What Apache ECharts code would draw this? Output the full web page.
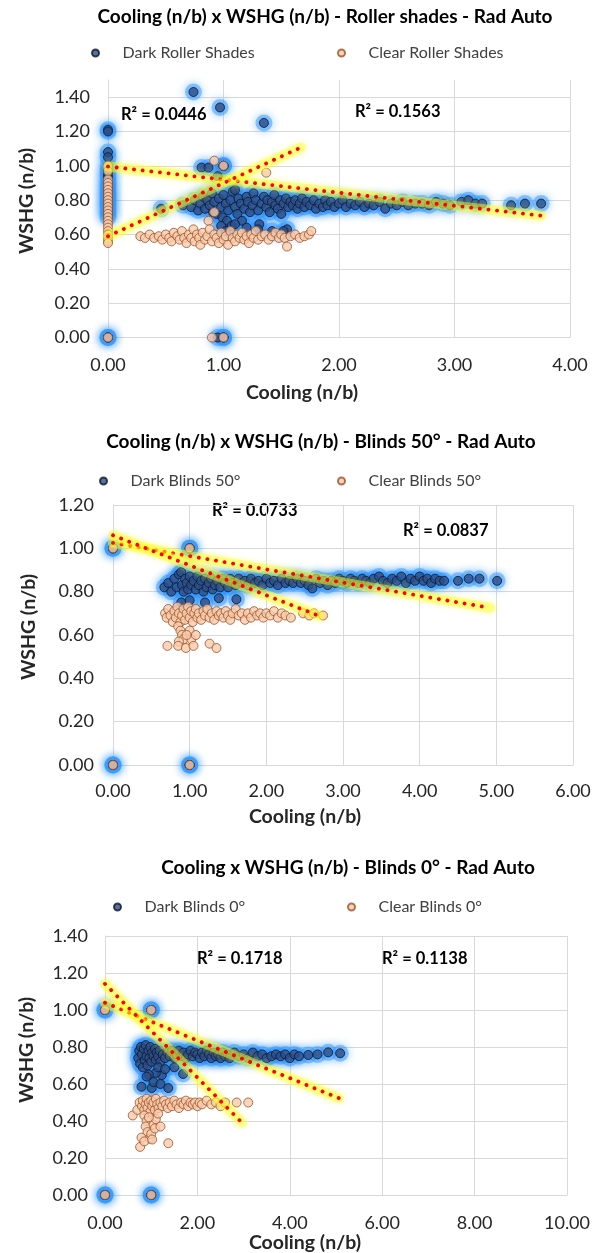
<!DOCTYPE html>
<html>
<head>
<meta charset="utf-8">
<script src="https://cdn.jsdelivr.net/npm/echarts@6/dist/echarts.min.js"></script>
<style>
  html, body { margin: 0; padding: 0; background: #fff; }
  #main { width: 597px; height: 1253px; }
</style>
</head>
<body>
<div id="main"></div>
<script>
// ---- data: [cooling, wshg] ----
var darkRoller = [
  [0,1.21],[0,1.2],[0,1.08],[0,1.05],[0,1.0],[0,0.97],[0,0.95],[0,0.93],[0,0.9],[0,0.88],[0,0.86],[0,0.84],
  [0,0.82],[0,0.8],[0,0.78],[0,0.76],[0,0.74],[0,0.72],[0,0.7],[0,0],[0,0],[0,0],[0.95,0],[1,0],[1,0],[1,0],
  [1,1],[1,1],[1,1],[0.81,0.99],
  [0.87,0.99],[0.95,0.94],[0.74,1.43],[0.97,1.34],[1.35,1.25],[0.46,0.75],[0.65,0.77],[0.91,0.73],
  [0.72,0.76],[0.75,0.8],[0.78,0.74],[0.8,0.78],[0.82,0.82],[0.84,0.75],[0.86,0.8],[0.88,0.77],[0.9,0.84],
  [0.92,0.79],[0.94,0.72],[0.96,0.81],[0.98,0.76],[1.0,0.83],[0.99,0.7],[1.02,0.78],[1.03,0.68],[1.04,0.74],
  [1.06,0.8],[1.07,0.65],[1.08,0.85],[1.1,0.76],[1.1,0.86],[1.12,0.72],[1.13,0.81],[1.15,0.78],[1.16,0.68],
  [1.18,0.75],[1.2,0.82],[1.21,0.79],[1.23,0.73],[1.25,0.77],[1.26,0.84],[1.28,0.8],[1.3,0.74],[1.31,0.66],
  [1.33,0.78],[1.35,0.82],[1.37,0.76],[1.38,0.8],[1.4,0.73],[1.42,0.79],[1.44,0.83],[1.45,0.77],[1.47,0.75],
  [1.49,0.8],[1.5,0.72],[1.52,0.78],[1.54,0.81],[1.55,0.63],[1.56,0.76],[1.58,0.79],[1.6,0.77],[1.62,0.8],
  [1.64,0.75],[1.66,0.78],[1.68,0.81],[1.7,0.76],[1.72,0.79],[1.75,0.77],[1.78,0.8],[1.8,0.75],[1.83,0.78],
  [1.86,0.76],[1.88,0.8],[1.9,0.77],[1.93,0.79],[1.96,0.76],[2.0,0.78],[2.03,0.8],[2.06,0.76],[2.1,0.78],
  [2.14,0.77],[2.18,0.79],[2.22,0.76],[2.26,0.78],[2.3,0.77],[2.35,0.79],[2.4,0.75],[2.45,0.78],[2.5,0.77],
  [2.55,0.79],[2.6,0.77],[2.66,0.78],[2.72,0.78],[2.78,0.77],[2.84,0.79],[2.9,0.78],[2.96,0.77],[3.06,0.79],
  [3.12,0.8],[3.18,0.78],[3.24,0.78],[3.49,0.77],[3.61,0.78],[3.75,0.78],
  [0.98,0.65],[1.02,0.62],[1.1,0.66],[1.2,0.64],[1.3,0.63],[1.42,0.62],[1.52,0.62]
];
var clearRoller = [
  [0,1.0],[0,0.97],[0,0.92],[0,0.9],[0,0.88],[0,0.86],[0,0.84],[0,0.82],[0,0.8],[0,0.78],[0,0.76],[0,0.74],
  [0,0.72],[0,0.7],[0,0.68],[0,0.66],[0,0.64],[0,0.62],[0,0.6],[0,0.58],[0,0.56],[0,0.55],[0,0],
  [0.9,0],[1,0],[1,1],[0.92,1.03],[1.37,0.96],[0.92,0.73],[0.87,0.68],
  [0.28,0.59],[0.32,0.58],[0.36,0.6],[0.4,0.58],[0.44,0.59],[0.47,0.57],[0.5,0.6],[0.53,0.58],[0.55,0.56],
  [0.57,0.61],[0.6,0.59],[0.62,0.57],[0.64,0.62],[0.66,0.58],[0.68,0.55],[0.7,0.6],[0.72,0.58],[0.74,0.63],
  [0.75,0.56],[0.77,0.6],[0.79,0.58],[0.8,0.54],[0.82,0.61],[0.84,0.57],[0.86,0.59],[0.88,0.63],[0.9,0.56],
  [0.92,0.6],[0.94,0.58],[0.96,0.55],[0.98,0.61],[1.0,0.57],[1.02,0.59],[1.04,0.54],[1.06,0.62],[1.08,0.58],
  [1.1,0.56],[1.12,0.6],[1.14,0.58],[1.16,0.61],[1.18,0.57],[1.2,0.59],[1.22,0.55],[1.24,0.6],[1.26,0.58],
  [1.28,0.62],[1.3,0.57],[1.33,0.59],[1.36,0.6],[1.39,0.57],[1.42,0.59],[1.45,0.61],[1.48,0.58],[1.5,0.6],
  [1.53,0.58],[1.55,0.53],[1.58,0.59],[1.62,0.6],[1.66,0.58],[1.7,0.59],[1.74,0.6],[1.76,0.62]
];
var trendDarkRoller = [[0,0.996],[3.75,0.71]];
var trendClearRoller = [[0,0.59],[1.67,1.107]];

var darkB50 = [
  [0,1],[0,1],[0,1],[0,0],[0,0],[0,0],[1,1],[1,1],[1,1],[1,0],[1,0],[1,0],
  [0.67,0.82],[0.72,0.84],[0.76,0.8],[0.8,0.86],[0.83,0.82],[0.86,0.88],[0.89,0.89],
  [0.89,0.75],[0.9,0.83],[0.92,0.8],[0.94,0.86],[0.96,0.84],[0.98,0.81],[1.0,0.87],[1.0,0.76],[1.02,0.83],
  [1.05,0.85],[1.08,0.81],[1.1,0.87],[1.12,0.83],[1.15,0.85],[1.18,0.8],[1.2,0.75],[1.2,0.86],[1.22,0.82],
  [1.25,0.84],[1.28,0.86],[1.3,0.81],[1.33,0.83],[1.36,0.85],[1.38,0.77],[1.4,0.82],[1.43,0.86],[1.46,0.84],
  [1.5,0.82],[1.53,0.86],[1.56,0.84],[1.6,0.83],[1.61,0.765],[1.64,0.86],[1.68,0.84],[1.72,0.85],[1.76,0.83],
  [1.8,0.86],[1.85,0.84],[1.9,0.85],[1.95,0.83],[2.0,0.86],[2.05,0.84],[2.1,0.85],[2.15,0.83],[2.2,0.86],
  [2.25,0.84],[2.3,0.85],[2.35,0.84],[2.4,0.86],[2.45,0.84],[2.5,0.85],[2.55,0.83],[2.6,0.815],[2.65,0.86],
  [2.7,0.84],[2.75,0.85],[2.8,0.83],[2.85,0.85],[2.9,0.84],[2.95,0.86],[3.0,0.85],[3.05,0.84],[3.1,0.86],
  [3.15,0.85],[3.2,0.84],[3.25,0.86],[3.3,0.85],[3.35,0.84],[3.4,0.86],[3.47,0.87],[3.52,0.85],[3.58,0.84],
  [3.64,0.86],[3.7,0.85],[3.76,0.87],[3.82,0.84],[3.88,0.86],[3.94,0.85],[4.0,0.87],[4.05,0.85],[4.1,0.86],
  [4.15,0.84],[4.2,0.86],[4.26,0.85],[4.32,0.85],[4.5,0.85],[4.64,0.86],[4.78,0.86],[5.01,0.85]
];
var clearB50 = [
  [0,1],[0,0],[1,1],[1,0],[0.68,0.7],[0.7,0.68],[0.72,0.72],[0.75,0.69],[0.78,0.66],[0.8,0.71],[0.82,0.68],
  [0.84,0.73],[0.86,0.7],[0.88,0.66],[0.9,0.69],[0.92,0.72],[0.94,0.67],[0.96,0.7],[0.98,0.73],[1.0,0.68],
  [1.02,0.71],[1.04,0.66],[1.06,0.7],[1.08,0.72],[1.1,0.68],[1.12,0.7],[1.15,0.67],[1.18,0.71],[1.2,0.69],
  [1.23,0.72],[1.26,0.68],[1.29,0.7],[1.32,0.67],[1.35,0.71],[1.38,0.69],[1.41,0.7],[1.44,0.68],[1.47,0.71],
  [1.5,0.69],[1.53,0.67],[1.56,0.7],[1.6,0.72],[1.64,0.69],[1.68,0.7],[1.72,0.67],[1.76,0.7],[1.8,0.68],
  [1.84,0.71],[1.88,0.69],[1.92,0.7],[1.96,0.68],[2.0,0.7],[2.05,0.69],[2.1,0.71],[2.15,0.68],[2.2,0.7],
  [2.25,0.69],[2.32,0.68],[2.48,0.7],[2.56,0.69],[2.62,0.7],[2.74,0.69],
  [0.85,0.64],[0.88,0.62],[0.9,0.6],[0.92,0.58],[0.86,0.57],[0.71,0.55],[0.85,0.55],[0.95,0.54],[1.02,0.58],
  [1.0,0.62],[0.96,0.6],[1.05,0.55],[1.08,0.6],[1.26,0.56],[1.35,0.54]
];
var trendDarkB50 = [[0,1.025],[4.92,0.725]];
var trendClearB50 = [[0,1.06],[2.69,0.688]];

var darkB0 = [
  [0,1],[0,1],[0,1],[0,0],[0,0],[0,0],[1,1],[1,1],[1,1],[1,0],[1,0],[1,0],
  [0.72,0.74],[0.74,0.78],[0.76,0.71],[0.78,0.8],[0.8,0.76],[0.82,0.69],[0.84,0.79],
  [0.86,0.73],[0.88,0.81],[0.9,0.75],[0.92,0.7],[0.94,0.78],[0.96,0.74],[0.98,0.8],[1.0,0.72],[1.02,0.77],
  [1.05,0.75],[1.08,0.79],[1.1,0.73],[1.12,0.77],[1.15,0.75],[1.18,0.78],[1.2,0.72],[1.25,0.76],[1.3,0.74],
  [1.35,0.77],[1.4,0.75],[1.45,0.78],[1.5,0.74],[1.55,0.76],[1.6,0.78],[1.65,0.75],[1.7,0.77],[1.75,0.74],
  [1.8,0.76],[1.85,0.78],[1.9,0.75],[1.95,0.77],[2.0,0.76],[2.05,0.74],[2.1,0.77],[2.15,0.75],[2.2,0.78],
  [2.25,0.76],[2.3,0.74],[2.35,0.77],[2.4,0.75],[2.45,0.76],[2.5,0.74],[2.55,0.77],[2.6,0.75],[2.65,0.76],
  [2.7,0.74],[2.8,0.77],[2.9,0.75],[3.0,0.76],[3.1,0.74],[3.2,0.77],[3.3,0.75],[3.4,0.76],[3.5,0.74],
  [3.6,0.75],[3.7,0.76],[3.8,0.75],[3.9,0.76],[4.0,0.74],[4.1,0.76],[4.2,0.75],[4.4,0.757],[4.6,0.76],
  [4.83,0.771],[5.09,0.766],
  [0.79,0.585],[1.01,0.578],[1.37,0.578],[1.23,0.648],[1.69,0.654],[1.1,0.66],[0.95,0.65],[1.05,0.61],
  [1.15,0.69],[1.3,0.68],[1.5,0.69],[0.9,0.64],[1.2,0.6]
];
var clearB0 = [
  [0,1],[0,0],[1,1],[1,0],[0.6,0.43],[0.7,0.46],[0.75,0.5],[0.8,0.48],[0.82,0.51],[0.85,0.46],[0.88,0.49],
  [0.9,0.52],[0.92,0.47],[0.95,0.5],[0.98,0.45],[1.0,0.51],[1.02,0.48],[1.05,0.5],[1.08,0.46],[1.1,0.52],
  [1.13,0.49],[1.16,0.47],[1.2,0.5],[1.24,0.48],[1.28,0.51],[1.32,0.49],[1.36,0.47],[1.4,0.5],[1.45,0.48],
  [1.5,0.51],[1.55,0.49],[1.6,0.47],[1.65,0.5],[1.7,0.49],[1.75,0.51],[1.8,0.48],[1.85,0.5],[1.9,0.49],
  [1.95,0.5],[2.0,0.48],[2.05,0.5],[2.1,0.49],[2.2,0.51],[2.3,0.49],[2.4,0.5],[2.5,0.48],[2.6,0.5],
  [2.85,0.5],[3.1,0.5],
  [0.85,0.43],[0.9,0.4],[0.88,0.37],[0.92,0.34],[0.79,0.31],[0.97,0.305],[0.76,0.26],[0.85,0.29],[1.0,0.33],
  [1.05,0.38],[1.08,0.36],[1.1,0.41],[1.15,0.44],[1.2,0.37],[1.37,0.28],[0.95,0.42],[1.02,0.3]
];
var trendDarkB0 = [[0,1.039],[5.06,0.524]];
var trendClearB0 = [[0,1.141],[2.96,0.392]];

// axis ranges [min, max, interval]
var xRanges = [[0,4,1],[0,6,1],[0,10,2]];
var yRanges = [[0,1.5,0.2],[0,1.2,0.2],[0,1.4,0.2]];
var titles = [
  'Cooling (n/b) x WSHG (n/b) - Roller shades - Rad Auto',
  'Cooling (n/b) x WSHG (n/b) - Blinds 50° - Rad Auto',
  'Cooling x WSHG (n/b) - Blinds 0° - Rad Auto'
];
var darkNames = ['Dark Roller Shades','Dark Blinds 50°','Dark Blinds 0°'];
var clearNames = ['Clear Roller Shades','Clear Blinds 50°','Clear Blinds 0°'];
var r2Labels = [['0.0446','0.1563'],['0.0733','0.0837'],['0.1718','0.1138']];

var chartMain = (function() {
    var FONT = 'Lato, "Noto Sans", sans-serif';
    var GRID = '#D9D9D9';
    var darkSets = [darkRoller, darkB50, darkB0];
    var clearSets = [clearRoller, clearB50, clearB0];
    var trendDark = [trendDarkRoller, trendDarkB50, trendDarkB0];
    var trendClear = [trendClearRoller, trendClearB50, trendClearB0];

    // layout of each panel
    var grids = [
        {left: 108, top: 80, width: 462, height: 257.5},
        {left: 113, top: 505, width: 460, height: 260},
        {left: 105, top: 936, width: 462, height: 259}
    ];
    var titleY = [17, 442, 868], titleX = [325, 321, 348];
    var legendY = [53, 481, 907];
    var legendDarkX = [113, 121, 135], legendClearX = [359, 359, 369];
    var xNamePos = [[302, 393], [305, 817], [305, 1243]];
    var yNamePos = [[27, 201], [29, 627], [27, 1050]];
    var r2Pos = [[[121, 115], [355, 112]], [[212, 511], [403, 531]], [[197, 959], [382, 959]]];
    var xLabelMargin = [19, 17, 19], yLabelMargin = [18, 19, 17];

    function isWhole(r) { return Math.abs(r - Math.round(r)) < 1e-6; }

    function buildOption() {
        var option = {
            backgroundColor: '#fff',
            animation: false,
            legend: [], grid: [], xAxis: [], yAxis: [], series: [], graphic: []
        };
        for (var i = 0; i < 3; i++) {
            var lg = {icon: 'circle', itemWidth: 44, itemHeight: 7, selectedMode: false,
                textStyle: {fontFamily: FONT, fontSize: 16, color: '#404040'}};
            option.legend.push(Object.assign({}, lg, {data: [darkNames[i]], left: legendDarkX[i] - 27, top: legendY[i] - 13}));
            option.legend.push(Object.assign({}, lg, {data: [clearNames[i]], left: legendClearX[i] - 27, top: legendY[i] - 13}));
            option.grid.push(grids[i]);

            var xr = xRanges[i], yr = yRanges[i];
            option.xAxis.push({
                type: 'value', gridIndex: i, min: xr[0], max: xr[1], interval: xr[2],
                axisLine: {show: true, lineStyle: {color: GRID}},
                axisTick: {show: false},
                axisLabel: {margin: xLabelMargin[i], fontFamily: FONT, fontSize: 18, color: '#262626',
                    formatter: function(v) { return v.toFixed(2); }},
                splitLine: {show: true, lineStyle: {color: GRID}}
            });
            // y max may fall between ticks (1.50): keep the line there invisible
            var ratio = (yr[1] - yr[0]) / yr[2];
            var nLines = Math.floor(ratio + 1e-6) + 1;
            var colors = [];
            for (var k = 0; k < nLines; k++) { colors.push(GRID); }
            if (!isWhole(ratio)) { colors.push('rgba(0,0,0,0)'); }
            option.yAxis.push({
                type: 'value', gridIndex: i, min: yr[0], max: yr[1], interval: yr[2],
                axisLine: {show: true, lineStyle: {color: GRID}},
                axisTick: {show: false},
                axisLabel: {margin: yLabelMargin[i], fontFamily: FONT, fontSize: 18, color: '#262626',
                    showMaxLabel: isWhole(ratio),
                    formatter: function(v) { return v.toFixed(2); }},
                splitLine: {show: true, lineStyle: {color: colors}}
            });

            // blue glow under the dark markers
            option.series.push({
                type: 'scatter', xAxisIndex: i, yAxisIndex: i, silent: true,
                data: darkSets[i], symbolSize: 17,
                itemStyle: {color: 'rgba(45,150,255,0.6)', shadowBlur: 9, shadowColor: 'rgba(45,150,255,1)'}
            });
            option.series.push({
                type: 'scatter', name: darkNames[i], xAxisIndex: i, yAxisIndex: i,
                data: darkSets[i], symbolSize: 9,
                itemStyle: {color: '#2D4E88', borderColor: '#0f1828', borderWidth: 1}
            });
            option.series.push({
                type: 'scatter', name: clearNames[i], xAxisIndex: i, yAxisIndex: i,
                data: clearSets[i], symbolSize: 9,
                itemStyle: {color: '#F8CBAD', borderColor: '#9C5224', borderWidth: 1}
            });
            [trendDark[i], trendClear[i]].forEach(function(t) {
                option.series.push({
                    type: 'line', xAxisIndex: i, yAxisIndex: i, data: t, silent: true,
                    showSymbol: false, symbol: 'none',
                    lineStyle: {color: 'rgba(255,255,40,0.45)', width: 10, cap: 'round',
                        shadowBlur: 6, shadowColor: 'rgba(255,255,0,0.7)'}
                });
                option.series.push({
                    type: 'line', xAxisIndex: i, yAxisIndex: i, data: t, silent: true,
                    showSymbol: false, symbol: 'none',
                    lineStyle: {color: '#FF0000', width: 3.8, type: [0.1, 8.6], cap: 'round'}
                });
            });

            // titles, axis titles and R² labels
            option.graphic.push({
                type: 'text', x: titleX[i], y: titleY[i],
                style: {text: titles[i], align: 'center', verticalAlign: 'middle',
                    font: 'bold 19px ' + FONT, fill: '#000'}
            });
            option.graphic.push({
                type: 'text', x: xNamePos[i][0], y: xNamePos[i][1],
                style: {text: 'Cooling (n/b)', align: 'center', verticalAlign: 'middle',
                    font: 'bold 19.5px ' + FONT, fill: '#262626'}
            });
            option.graphic.push({
                type: 'text', x: yNamePos[i][0], y: yNamePos[i][1], rotation: Math.PI / 2,
                style: {text: 'WSHG (n/b)', align: 'center', verticalAlign: 'middle',
                    font: 'bold 19.5px ' + FONT, fill: '#262626'}
            });
            for (var j = 0; j < 2; j++) {
                option.graphic.push({
                    type: 'text', x: r2Pos[i][j][0], y: r2Pos[i][j][1],
                    style: {text: 'R² = ' + r2Labels[i][j], align: 'left', verticalAlign: 'middle',
                        font: 'bold 16.5px ' + FONT, fill: '#000'}
                });
            }
        }
        return option;
    }

    var myChart = echarts.init(document.getElementById('main'));
    myChart.setOption(buildOption());
    return {chart: myChart};
})();
</script>
</body>
</html>
